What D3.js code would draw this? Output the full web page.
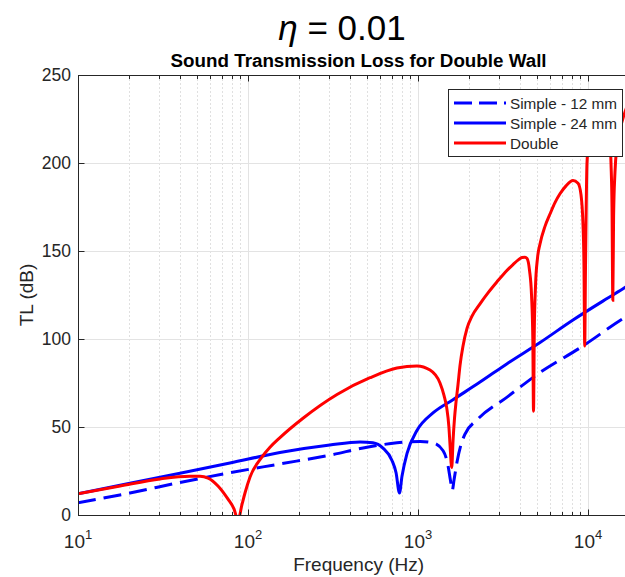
<!DOCTYPE html>
<html>
<head>
<meta charset="utf-8">
<script src="https://cdn.jsdelivr.net/npm/d3@7"></script>
<style>
  html, body { margin: 0; padding: 0; background: #fff; }
  svg { display: block; }
  text { font-family: "Liberation Sans", Arial, Helvetica, sans-serif; fill: #262626; }
</style>
</head>
<body>
<svg id="chart" width="625" height="577"></svg>
<script>
// ---------- DATA ----------
const seriesNames = ["Simple - 12 mm", "Simple - 24 mm", "Double"];
const seriesColors = ["#0000ff", "#0000ff", "#ff0000"];

const freq12 = [10, 20.2, 39.8, 78.3, 154, 303, 501, 752, 1030, 1225, 1405, 1502, 1550, 1590, 1630, 1695, 1790, 1890, 2222, 3342, 5222, 8990, 16650, 20000];
const tl12   = [7, 12.5, 18.5, 24, 29, 34, 38.5, 41, 41.8, 41, 36.5, 28, 20, 14, 20, 30, 40, 46, 54, 67, 81, 95, 112.5, 117];

const freq24 = [10, 20.2, 39.8, 78.3, 154, 303, 456, 543, 622, 703, 743, 778, 805, 862, 986, 1225, 1606, 2317, 3342, 5222, 8160, 12940, 16650, 20000];
const tl24   = [12, 18, 23.7, 29.5, 35.5, 39.8, 41.5, 41, 38, 31, 24, 12.5, 22, 35, 48, 58, 65.5, 75.5, 86, 98, 110.8, 123, 129.5, 135];

const freqD = [10, 17.7, 30.4, 45.6, 52.2, 58.2, 66.6, 76.3, 82.7, 87.3, 92.2, 96, 102.8, 120.9, 134.7, 154.2, 210.6, 333.9, 522, 752, 986, 1177, 1347, 1422, 1475, 1520, 1543, 1579, 1607, 1640, 1673, 1719, 1767, 1840, 1942, 2078, 2316, 2581, 2916, 3250, 3622, 3873, 4090, 4260, 4377, 4529, 4653, 4736, 4780, 4832, 4911, 5046, 5220, 5585, 5976, 6394, 6843, 7425, 8160, 8736, 9095, 9345, 9474, 9564, 9667, 9865, 10275, 10702, 11296, 12089, 12937, 13382, 13656, 13843, 13994, 14146, 14416, 14812, 15424, 16506, 20000];
const tlD   = [12, 16.5, 20.5, 22, 22, 21, 16.5, 9, 3.5, -3, 6, 12.5, 21.6, 33, 38.5, 44, 55, 68.5, 78, 83.5, 84.7, 82.4, 75, 68, 61, 50, 40, 27, 42, 55, 64, 74, 85, 96, 106, 113, 120, 126.2, 132.5, 137.8, 142.3, 144.8, 146.3, 146.5, 145.8, 139, 125, 100, 59, 105, 130, 146, 154, 164, 171, 177.5, 182.5, 187, 190, 188.5, 182, 165, 140, 96, 140, 200, 219, 229, 236, 240, 236, 222, 200, 175, 122, 170, 195, 210, 219, 229, 242];

const yTicks = [0, 50, 100, 150, 200, 250];
const xMajorTicks = [10, 100, 1000, 10000];
const xExponents = ["1", "2", "3", "4"];

const mainTitle = "0.01";
const subTitle = "Sound Transmission Loss for Double Wall";
const xLabel = "Frequency (Hz)";
const yLabel = "TL (dB)";

// ---------- LAYOUT ----------
const svg = d3.select("#chart");
const L = 78, T = 75, B = 515;
const x = d3.scaleLog().domain([10, 20000]).range([L, L + 170 * Math.log10(2000)]);
const y = d3.scaleLinear().domain([0, 250]).range([B, T]);
const R = x.range()[1];
const axisColor = "#262626";

svg.append("rect").attr("width", 625).attr("height", 577).attr("fill", "#fff");

svg.append("defs").append("clipPath").attr("id", "plotclip")
  .append("rect").attr("x", L).attr("y", T).attr("width", R - L).attr("height", B - T);

// Grid
const minorX = [];
[10, 100, 1000, 10000].forEach(d => { for (let k = 2; k <= 9; k++) if (d * k <= 20000) minorX.push(d * k); });
const grid = svg.append("g");
grid.selectAll("line.minx").data(minorX).join("line")
  .attr("x1", d => Math.round(x(d)) + 0.5).attr("x2", d => Math.round(x(d)) + 0.5)
  .attr("y1", T).attr("y2", B)
  .attr("stroke", "#e0e0e0").attr("stroke-width", 1).attr("stroke-dasharray", "2,2");
grid.selectAll("line.majx").data(xMajorTicks.slice(1)).join("line")
  .attr("x1", d => Math.round(x(d)) + 0.5).attr("x2", d => Math.round(x(d)) + 0.5)
  .attr("y1", T).attr("y2", B)
  .attr("stroke", "#e3e3e3").attr("stroke-width", 1);
grid.selectAll("line.majy").data(yTicks.slice(1, -1)).join("line")
  .attr("x1", L).attr("x2", R)
  .attr("y1", d => Math.round(y(d)) + 0.5).attr("y2", d => Math.round(y(d)) + 0.5)
  .attr("stroke", "#e3e3e3").attr("stroke-width", 1);

// Lines
const line = d3.line().x(d => x(d[0])).y(d => y(d[1])).curve(d3.curveMonotoneX);
const plot = svg.append("g").attr("clip-path", "url(#plotclip)");
const data12 = freq12.map((f, i) => [f, tl12[i]]);
const data24 = freq24.map((f, i) => [f, tl24[i]]);
const dataD = freqD.map((f, i) => [f, tlD[i]]);

plot.append("path").datum(data12).attr("d", line).attr("fill", "none")
  .attr("stroke", seriesColors[0]).attr("stroke-width", 3).attr("stroke-dasharray", "18,8");
plot.append("path").datum(data24).attr("d", line).attr("fill", "none")
  .attr("stroke", seriesColors[1]).attr("stroke-width", 3);
plot.append("path").datum(dataD).attr("d", line).attr("fill", "none")
  .attr("stroke", seriesColors[2]).attr("stroke-width", 3);

// Axes (MATLAB style, ticks inside)
const ax = svg.append("g");
ax.append("rect").attr("x", L + 0.5).attr("y", T + 0.5).attr("width", R - L).attr("height", B - T)
  .attr("fill", "none").attr("stroke", axisColor).attr("stroke-width", 1);

const minorTickLen = 3.5, majorTickLen = 6;
[[B, -1], [T, 1]].forEach(([yy, dir]) => {
  ax.selectAll(null).data(minorX).join("line")
    .attr("x1", d => Math.round(x(d)) + 0.5).attr("x2", d => Math.round(x(d)) + 0.5)
    .attr("y1", yy + 0.5).attr("y2", yy + 0.5 + dir * minorTickLen)
    .attr("stroke", axisColor);
  ax.selectAll(null).data(xMajorTicks).join("line")
    .attr("x1", d => Math.round(x(d)) + 0.5).attr("x2", d => Math.round(x(d)) + 0.5)
    .attr("y1", yy + 0.5).attr("y2", yy + 0.5 + dir * majorTickLen)
    .attr("stroke", axisColor);
});
ax.selectAll(null).data(yTicks).join("line")
  .attr("x1", L + 0.5).attr("x2", L + 0.5 + majorTickLen)
  .attr("y1", d => Math.round(y(d)) + 0.5).attr("y2", d => Math.round(y(d)) + 0.5)
  .attr("stroke", axisColor);

// y tick labels
ax.selectAll(null).data(yTicks).join("text")
  .attr("x", L - 7).attr("y", d => y(d)).attr("dy", "0.36em")
  .attr("text-anchor", "end").attr("font-size", 17.5).text(d => d);

// x tick labels: 10^n
xMajorTicks.forEach((d, i) => {
  const t = ax.append("text").attr("x", x(d)).attr("y", 548)
    .attr("text-anchor", "middle").attr("font-size", 19);
  t.append("tspan").text("10");
  t.append("tspan").attr("font-size", 13).attr("dy", -9).text(xExponents[i]);
});

// axis labels
svg.append("text").attr("x", (L + R) / 2).attr("y", 571).attr("text-anchor", "middle")
  .attr("font-size", 19).text(xLabel);
svg.append("text").attr("transform", `translate(33,${(T + B) / 2}) rotate(-90)`)
  .attr("text-anchor", "middle").attr("font-size", 19).text(yLabel);

// titles
const tt = svg.append("text").attr("x", 342).attr("y", 40).attr("text-anchor", "middle")
  .attr("font-size", 35).style("fill", "#000");
tt.append("tspan").attr("font-style", "italic").text("η");
tt.append("tspan").text(" = " + mainTitle);
svg.append("text").attr("x", (L + R) / 2).attr("y", 67).attr("text-anchor", "middle")
  .attr("font-size", 18.8).attr("font-weight", "bold").style("fill", "#000").text(subTitle);

// legend
const lg = svg.append("g");
lg.append("rect").attr("x", 448.5).attr("y", 89.5).attr("width", 174).attr("height", 67)
  .attr("fill", "#fff").attr("stroke", axisColor).attr("stroke-width", 1);
const rowsY = [103, 123, 143];
seriesNames.forEach((name, i) => {
  const ln = lg.append("line").attr("x1", 454).attr("x2", 506).attr("y1", rowsY[i]).attr("y2", rowsY[i])
    .attr("stroke", seriesColors[i]).attr("stroke-width", 3);
  if (i === 0) ln.attr("stroke-dasharray", "18,7");
  lg.append("text").attr("x", 510).attr("y", rowsY[i]).attr("dy", "0.36em")
    .attr("font-size", 15.3).text(name);
});
</script>
</body>
</html>
